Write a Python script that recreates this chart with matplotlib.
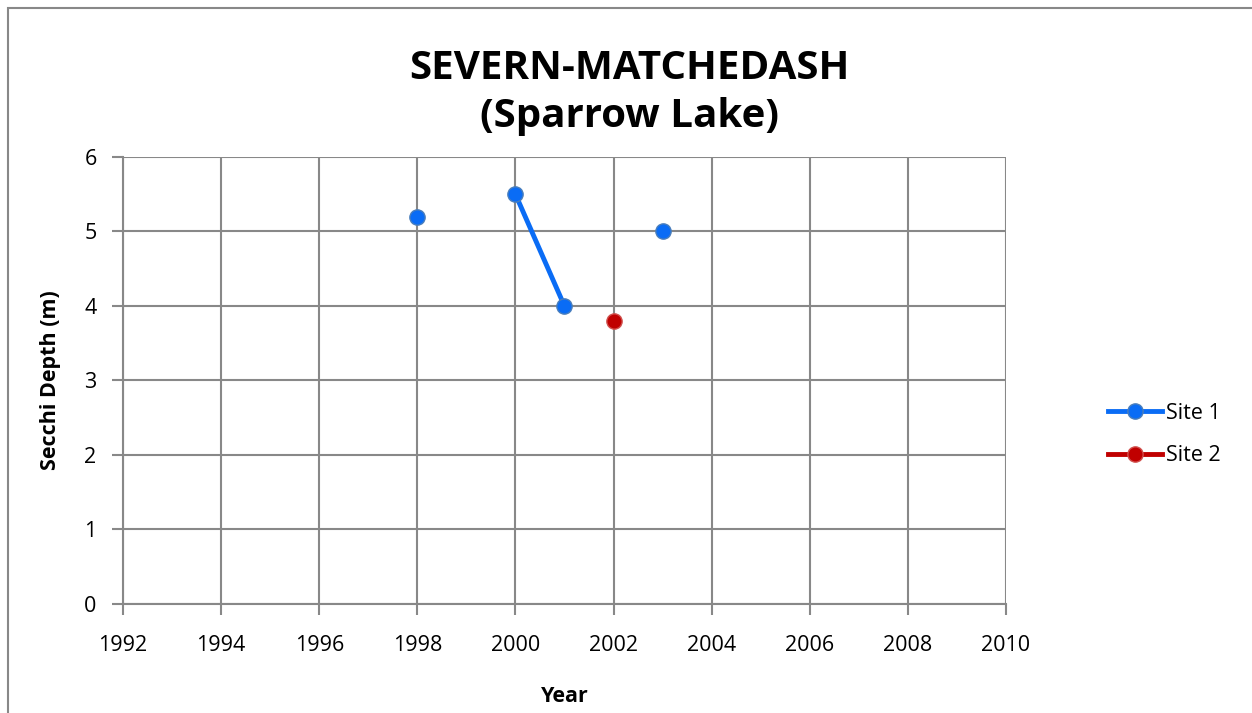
import numpy as np
import matplotlib.pyplot as plt
from matplotlib.patches import Rectangle

# data
years = [1998, 1999, 2000, 2001, 2002, 2003]
site1 = [5.2, np.nan, 5.5, 4.0, np.nan, 5.0]
site2_years = [2002]
site2 = [3.8]

plt.rcParams['font.family'] = ['Open Sans', 'DejaVu Sans']

fig = plt.figure(figsize=(12.52, 7.13), dpi=100)
ax = fig.add_axes([0.0982, 0.1529, 0.7053, 0.6269])

blue = '#0a6cf5'
red = '#c00000'
ax.plot(years, site1, color=blue, lw=3.5, marker='o', ms=11,
        mfc=blue, mec='#4a7ebb', mew=1, label='Site 1', zorder=3)
ax.plot(site2_years, site2, color=red, lw=3.5, marker='o', ms=11,
        mfc=red, mec='#d0504d', mew=1, label='Site 2', zorder=3)

ax.set_xlim(1992, 2010)
ax.set_ylim(0, 6)
ax.set_xticks(range(1992, 2011, 2))
ax.set_yticks(range(0, 7))
ax.grid(True, color='#888888', lw=1.5)
for s in ['top', 'right']:
    ax.spines[s].set_visible(False)
for s in ['left', 'bottom']:
    ax.spines[s].set_color('#888888')
    ax.spines[s].set_linewidth(1.5)
ax.tick_params(direction='out', length=8, width=1.5, color='#888888',
               labelsize=15.5)
ax.tick_params(axis='x', pad=14)
ax.tick_params(axis='y', pad=11)

ax.set_xlabel('Year', fontsize=15.5, fontweight='bold', labelpad=22)
ax.set_ylabel('Secchi Depth (m)', fontsize=15.5, fontweight='bold', labelpad=17)
fig.text(0.5024, 0.87, 'SEVERN-MATCHEDASH\n(Sparrow Lake)', ha='center',
         va='center', fontsize=29, fontweight='bold', linespacing=1.3)

leg = ax.legend(loc='center left', bbox_to_anchor=(0.885, 0.3906),
                bbox_transform=fig.transFigure, frameon=False,
                fontsize=15.5, handlelength=2.5, handletextpad=0.2,
                labelspacing=1.0, borderpad=0, borderaxespad=0)

fig.add_artist(Rectangle((8 / 1252, -0.1), 1.2, 1 - 8 / 713 + 0.1,
                         transform=fig.transFigure, fill=False,
                         edgecolor='#888888', lw=1.5))

fig.savefig('out.png', dpi=100)
